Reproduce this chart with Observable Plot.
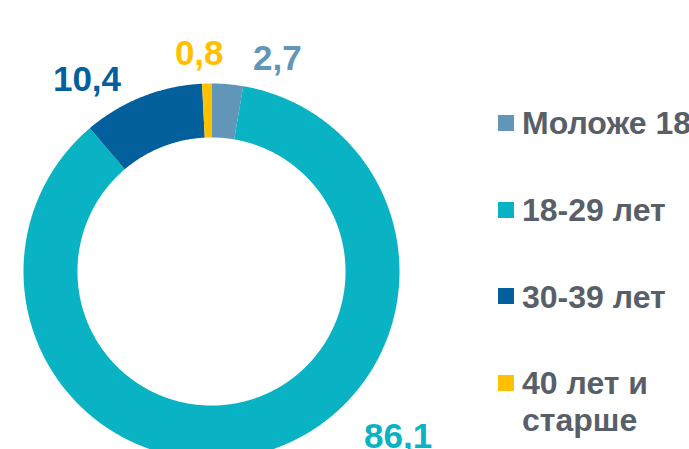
<!DOCTYPE html>
<html><head><meta charset="utf-8">
<script src="https://cdn.jsdelivr.net/npm/d3@7"></script>
<script src="https://cdn.jsdelivr.net/npm/@observablehq/plot@0.6"></script>
<style>
body{margin:0;background:#fff;}
#wrap{position:relative;width:689px;height:449px;overflow:hidden;font-family:"Liberation Sans",Arial,sans-serif;}
#wrap svg{position:absolute;left:0;top:0;}
.item{position:absolute;left:498px;font-size:32px;font-weight:bold;color:#595F68;line-height:37px;}
.sw{position:absolute;left:0;top:9.6px;width:16px;height:16px;}
.lbl{position:absolute;left:24px;top:0;white-space:nowrap;}
</style></head><body><div id="wrap"></div>
<script>
const categories = ["Моложе 18", "18-29 лет", "30-39 лет", "40 лет и старше"];
const legendLines = [["Моложе 18"], ["18-29 лет"], ["30-39 лет"], ["40 лет и", "старше"]];
const values = [2.7, 86.1, 10.4, 0.8];
const valueLabels = ["2,7", "86,1", "10,4", "0,8"];
const colors = ["#6196B8", "#0AB3C3", "#03609C", "#FFC000"];

// layout / style settings
const innerRatio = 0.713;
const labelRadius = 1.12;
const labelNudge = [[48, -3], [131, -38], [-47, 4], [-7, -7]];

const total = d3.sum(values);
let acc = 0;
const slices = values.map((v, i) => {
  const a0 = acc / total * 2 * Math.PI;
  acc += v;
  const a1 = acc / total * 2 * Math.PI;
  return {key: categories[i], a0, a1, mid: (a0 + a1) / 2, label: valueLabels[i], color: colors[i]};
});

const pts = [];
for (const s of slices) {
  const n = Math.max(2, Math.ceil((s.a1 - s.a0) / (Math.PI / 360)));
  for (let k = 0; k <= n; k++) {
    const a = s.a0 + (s.a1 - s.a0) * k / n;
    pts.push({key: s.key, x: Math.sin(a), y: Math.cos(a)});
  }
  for (let k = n; k >= 0; k--) {
    const a = s.a0 + (s.a1 - s.a0) * k / n;
    pts.push({key: s.key, x: innerRatio * Math.sin(a), y: innerRatio * Math.cos(a)});
  }
}

const labelMarks = slices.map((s, i) => Plot.text([s], {
  x: d => labelRadius * Math.sin(d.mid),
  y: d => labelRadius * Math.cos(d.mid),
  text: "label",
  fill: d => d.color,
  fontSize: 35,
  fontWeight: "bold",
  textAnchor: "middle",
  lineAnchor: "middle",
  dx: labelNudge[i][0],
  dy: labelNudge[i][1]
}));

const chart = Plot.plot({
  width: 689,
  height: 449,
  margin: 0,
  style: {fontFamily: "'Liberation Sans', Arial, sans-serif", background: "transparent", overflow: "hidden"},
  x: {domain: [-1, 1], range: [23, 399], axis: null},
  y: {domain: [-1, 1], range: [459, 83], axis: null},
  color: {domain: categories, range: colors},
  marks: [
    Plot.line(pts, {x: "x", y: "y", z: "key", fill: "key", stroke: "none", curve: "linear"}),
    ...labelMarks
  ]
});

const wrap = document.getElementById("wrap");
wrap.appendChild(chart);

categories.forEach((c, i) => {
  const item = document.createElement("div");
  item.className = "item";
  item.style.top = (105.4 + i * 86.6) + "px";
  const sw = document.createElement("div");
  sw.className = "sw";
  sw.style.background = colors[i];
  const lbl = document.createElement("div");
  lbl.className = "lbl";
  lbl.innerHTML = legendLines[i].join("<br>");
  item.appendChild(sw);
  item.appendChild(lbl);
  wrap.appendChild(item);
});
</script></body></html>
